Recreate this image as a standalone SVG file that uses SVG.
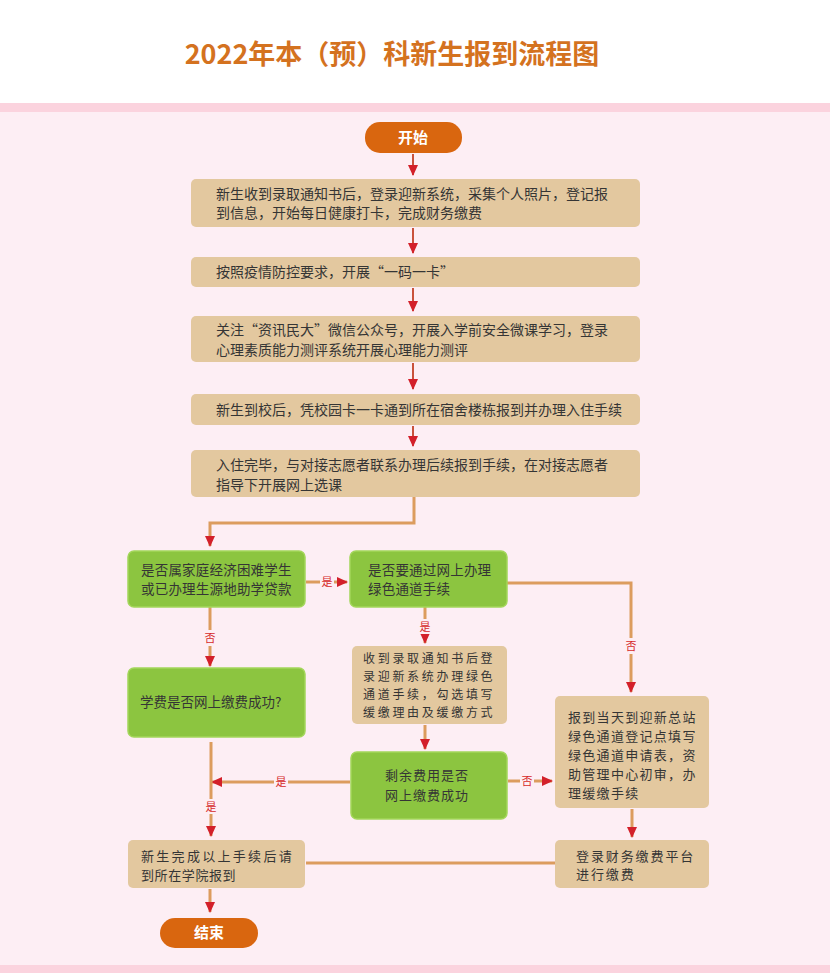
<svg xmlns="http://www.w3.org/2000/svg" width="830" height="973" viewBox="0 0 830 973">
<style>
.t{font-family:"Noto Sans CJK SC","Noto Sans",sans-serif;font-size:14px;fill:#353535}
.ga{font-size:13.5px;letter-spacing:0.2px}
.gc{font-size:12px;letter-spacing:2.7px}
.gd{font-size:13px;letter-spacing:1px;text-anchor:middle}
.ge{font-size:13px;letter-spacing:1.3px}
.gf{font-size:13px;letter-spacing:1.9px}
.gg{font-size:13px;letter-spacing:2.3px}
.gh{font-size:13.5px}
.tan{fill:#e3c89f}
.green{fill:#8cc540;stroke:#a3d65a;stroke-width:1.5}
.term{fill:#d9660f}
.tt{font-family:"Noto Sans CJK SC","Noto Sans",sans-serif;font-size:15px;font-weight:bold;fill:#ffffff;text-anchor:middle}
.conn{stroke:#dc9c5e;stroke-width:3;fill:none}
.short{stroke:#c9523c;stroke-width:2;fill:none}
.lbl{font-family:"Noto Sans CJK SC","Noto Sans",sans-serif;font-size:11px;fill:#d62a2a;text-anchor:middle}
.lb{fill:#fdeef4}
</style>
<defs>
<marker id="ah" markerUnits="userSpaceOnUse" markerWidth="11" markerHeight="10" refX="10" refY="5" orient="auto">
<path d="M0,0 L11,5 L0,10 z" fill="#d3202a"/>
</marker>
</defs>
<rect x="0" y="0" width="830" height="973" fill="#ffffff"/>
<rect x="0" y="103" width="830" height="870" fill="#fdeef4"/>
<rect x="0" y="103" width="830" height="9" fill="#fbd3de"/>
<rect x="0" y="965" width="830" height="8" fill="#fbd3de"/>
<text x="392" y="64" font-family="'Noto Sans CJK SC','Noto Sans',sans-serif" font-size="27" font-weight="bold" fill="#d4721f" text-anchor="middle">2022年本（预）科新生报到流程图</text>

<g id="connectors">
<line class="short" x1="413" y1="154" x2="413" y2="175" marker-end="url(#ah)"/>
<line class="short" x1="413" y1="228" x2="413" y2="253" marker-end="url(#ah)"/>
<line class="short" x1="413" y1="288" x2="413" y2="311" marker-end="url(#ah)"/>
<line class="short" x1="413" y1="363" x2="413" y2="389" marker-end="url(#ah)"/>
<line class="short" x1="413" y1="426" x2="413" y2="446" marker-end="url(#ah)"/>
<path class="conn" d="M414,497 V523 H210 V546" marker-end="url(#ah)"/>
<line class="conn" x1="306" y1="582" x2="347" y2="582" marker-end="url(#ah)"/>
<rect class="lb" x="320" y="575" width="14" height="14"/>
<text class="lbl" x="327" y="586">是</text>
<path class="conn" d="M507,583 H631 V692" marker-end="url(#ah)"/>
<rect class="lb" x="624" y="638" width="14" height="16"/>
<text class="lbl" x="631" y="650">否</text>
<line class="conn" x1="425" y1="607" x2="425" y2="643" marker-end="url(#ah)"/>
<rect class="lb" x="418" y="619" width="14" height="15"/>
<text class="lbl" x="425" y="631">是</text>
<line class="conn" x1="210" y1="607" x2="210" y2="666" marker-end="url(#ah)"/>
<rect class="lb" x="203" y="630" width="14" height="16"/>
<text class="lbl" x="210" y="642">否</text>
<line class="conn" x1="425" y1="725" x2="425" y2="749" marker-end="url(#ah)"/>
<line class="conn" x1="350" y1="782" x2="212" y2="782" marker-end="url(#ah)"/>
<rect class="lb" x="274" y="775" width="14" height="14"/>
<text class="lbl" x="281" y="786">是</text>
<line class="conn" x1="508" y1="781" x2="552" y2="781" marker-end="url(#ah)"/>
<rect class="lb" x="520" y="774" width="14" height="14"/>
<text class="lbl" x="527" y="785">否</text>
<line class="conn" x1="211" y1="742" x2="211" y2="836" marker-end="url(#ah)"/>
<rect class="lb" x="204" y="799" width="14" height="15"/>
<text class="lbl" x="211" y="811">是</text>
<line class="conn" x1="632" y1="809" x2="632" y2="837" marker-end="url(#ah)"/>
<line class="conn" x1="556" y1="863" x2="306" y2="863"/>
<line class="conn" x1="210" y1="889" x2="210" y2="912" marker-end="url(#ah)"/>
</g>

<g id="start">
<rect class="term" x="365" y="122" width="97" height="31" rx="15"/>
<text class="tt" x="413" y="143">开始</text>
</g>
<g id="step1">
<rect class="tan" x="191" y="179" width="449" height="48" rx="5"/>
<text class="t" x="216" y="199">新生收到录取通知书后，登录迎新系统，采集个人照片，登记报</text>
<text class="t" x="216" y="218">到信息，开始每日健康打卡，完成财务缴费</text>
</g>
<g id="step2">
<rect class="tan" x="191" y="257" width="449" height="30" rx="5"/>
<text class="t" x="216" y="277">按照疫情防控要求，开展“一码一卡”</text>
</g>
<g id="step3">
<rect class="tan" x="191" y="316" width="449" height="46" rx="5"/>
<text class="t" x="216" y="335">关注“资讯民大”微信公众号，开展入学前安全微课学习，登录</text>
<text class="t" x="216" y="355">心理素质能力测评系统开展心理能力测评</text>
</g>
<g id="step4">
<rect class="tan" x="191" y="394" width="449" height="31" rx="5"/>
<text class="t" x="216" y="415">新生到校后，凭校园卡一卡通到所在宿舍楼栋报到并办理入住手续</text>
</g>
<g id="step5">
<rect class="tan" x="191" y="450" width="449" height="47" rx="5"/>
<text class="t" x="216" y="470">入住完毕，与对接志愿者联系办理后续报到手续，在对接志愿者</text>
<text class="t" x="216" y="490">指导下开展网上选课</text>
</g>
<g id="q-difficult">
<rect class="green" x="128" y="551" width="177" height="56" rx="6"/>
<text class="t ga" x="141" y="575">是否属家庭经济困难学生</text>
<text class="t ga" x="141" y="594">或已办理生源地助学贷款</text>
</g>
<g id="q-green-online">
<rect class="green" x="350" y="551" width="157" height="56" rx="6"/>
<text class="t ga" x="368" y="575">是否要通过网上办理</text>
<text class="t ga" x="368" y="594">绿色通道手续</text>
</g>
<g id="online-green">
<rect class="tan" x="352" y="646" width="155" height="78" rx="5"/>
<text class="t gc" x="363" y="663">收到录取通知书后登</text>
<text class="t gc" x="363" y="681">录迎新系统办理绿色</text>
<text class="t gc" x="363" y="699">通道手续，勾选填写</text>
<text class="t gc" x="363" y="717">缓缴理由及缓缴方式</text>
</g>
<g id="q-fee">
<rect class="green" x="128" y="668" width="177" height="69" rx="6"/>
<text class="t gh" x="140" y="707">学费是否网上缴费成功?</text>
</g>
<g id="q-remaining">
<rect class="green" x="351" y="752" width="156" height="67" rx="6"/>
<text class="t gd" x="427" y="780">剩余费用是否</text>
<text class="t gd" x="427" y="800">网上缴费成功</text>
</g>
<g id="onsite-green">
<rect class="tan" x="555" y="696" width="154" height="112" rx="5"/>
<text class="t ge" x="568" y="722">报到当天到迎新总站</text>
<text class="t ge" x="568" y="741">绿色通道登记点填写</text>
<text class="t ge" x="568" y="760">绿色通道申请表，资</text>
<text class="t ge" x="568" y="779">助管理中心初审，办</text>
<text class="t ge" x="568" y="798">理缓缴手续</text>
</g>
<g id="pay-platform">
<rect class="tan" x="555" y="840" width="154" height="48" rx="5"/>
<text class="t gf" x="576" y="861">登录财务缴费平台</text>
<text class="t gf" x="576" y="879">进行缴费</text>
</g>
<g id="college">
<rect class="tan" x="128" y="840" width="177" height="48" rx="5"/>
<text class="t gg" x="141" y="861">新生完成以上手续后请</text>
<text class="t gg" x="141" y="880" style="letter-spacing:0.6px">到所在学院报到</text>
</g>
<g id="end">
<rect class="term" x="160" y="918" width="98" height="30" rx="15"/>
<text class="tt" x="209" y="938">结束</text>
</g>
</svg>
